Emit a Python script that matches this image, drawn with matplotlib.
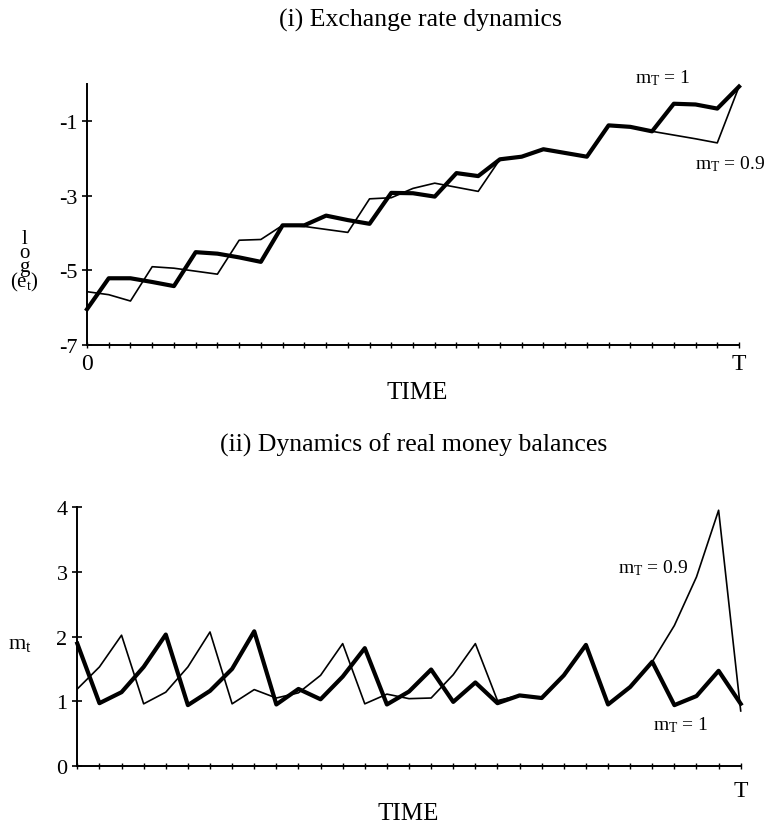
import matplotlib
matplotlib.use("Agg")
import matplotlib.pyplot as plt
import numpy as np

plt.rcParams['font.family'] = ['Liberation Serif', 'DejaVu Serif']
plt.rcParams['mathtext.fontset'] = 'custom'
plt.rcParams['mathtext.rm'] = 'Liberation Serif'
plt.rcParams['mathtext.it'] = 'Liberation Serif'
plt.rcParams['axes.unicode_minus'] = False

############################ data ####################################################

periods = np.arange(31)

# (i) log exchange rate
log_e_m1 = [-6.04, -5.21, -5.21, -5.31, -5.42, -4.51, -4.55, -4.65, -4.77, -3.79,
            -3.79, -3.53, -3.65, -3.75, -2.92, -2.93, -3.02, -2.39, -2.47, -2.02,
            -1.95, -1.75, -1.85, -1.95, -1.11, -1.15, -1.27, -0.53, -0.55, -0.66,
            -0.07]
log_e_m09 = [-5.57, -5.65, -5.82, -4.90, -4.94, -5.02, -5.10, -4.19, -4.17, -3.79,
             -3.82, -3.90, -3.98, -3.08, -3.05, -2.80, -2.66, -2.77, -2.88, -2.02,
             -1.95, -1.75, -1.85, -1.95, -1.11, -1.15, -1.27, -1.37, -1.47, -1.58,
             -0.07]

# (ii) real money balances
m_m1 = [1.89, 0.97, 1.14, 1.53, 2.03, 0.94, 1.16, 1.50, 2.08, 0.95,
        1.19, 1.03, 1.38, 1.82, 0.95, 1.15, 1.49, 0.99, 1.29, 0.97,
        1.09, 1.05, 1.40, 1.87, 0.95, 1.22, 1.61, 0.94, 1.08, 1.47,
        0.96]
m_m09 = [1.19, 1.53, 2.02, 0.96, 1.14, 1.53, 2.07, 0.96, 1.18, 1.05,
         1.13, 1.40, 1.89, 0.96, 1.11, 1.04, 1.05, 1.41, 1.89, 1.01,
         1.09, 1.05, 1.40, 1.87, 0.95, 1.22, 1.61, 2.17, 2.92, 3.95,
         0.85]

top_yticks = [-1, -3, -5, -7]
bot_yticks = [0, 1, 2, 3, 4]

############################ plot data #################################

fig = plt.figure(figsize=(7.74, 8.29), dpi=100)
ax1 = fig.add_axes([0.1124, 0.5826, 0.8424, 0.3149])
ax2 = fig.add_axes([0.0999, 0.0748, 0.8571, 0.3124])

ax1.plot(periods, log_e_m09, color='black', lw=1.2, clip_on=False)
ax1.plot(periods, log_e_m1, color='black', lw=3.0, clip_on=False)
ax2.plot(periods, m_m09, color='black', lw=1.2, clip_on=False)
ax2.plot(periods, m_m1, color='black', lw=3.0, clip_on=False)

for ax in (ax1, ax2):
    ax.spines['top'].set_visible(False)
    ax.spines['right'].set_visible(False)
    ax.spines['left'].set_linewidth(1.4)
    ax.spines['bottom'].set_linewidth(1.4)
    ax.set_xlim(0, 30)
    ax.tick_params(axis='y', direction='inout', length=7, width=1.2, labelsize=16)
    ax.tick_params(axis='x', direction='inout', length=4, width=1.0, labelsize=17)

ax1.set_ylim(-7, 0)
ax1.set_yticks(top_yticks)
ax1.set_yticklabels([str(v) for v in top_yticks])
ax1.set_xticks(periods)
ax1.set_xticklabels(['0'] + [''] * 29 + ['T'])
ax1.tick_params(axis='x', pad=4)

ax2.set_ylim(0, 4)
ax2.set_yticks(bot_yticks)
ax2.set_yticklabels([str(v) for v in bot_yticks])
ax2.set_xticks(periods)
ax2.set_xticklabels([''] * 30 + ['T'])
ax2.tick_params(axis='x', pad=8)

# titles and axis labels
fig.text(420 / 774, 1 - 20 / 829, '(i) Exchange rate dynamics', ha='center', va='center', fontsize=18.5)
fig.text(414 / 774, 1 - 445 / 829, '(ii) Dynamics of real money balances', ha='center', va='center', fontsize=18.5)
fig.text(417 / 774, 1 - 393 / 829, 'TIME', ha='center', va='center', fontsize=18)
fig.text(408 / 774, 1 - 814 / 829, 'TIME', ha='center', va='center', fontsize=18)

# stacked "log (e_t)" label, one text object with tight line spacing
fig.text(24 / 774, 1 - 262 / 829, 'l\no\ng\n(e$_{\\mathrm{t}}$)', ha='center', va='center',
         fontsize=15, linespacing=0.62, multialignment='center')
fig.text(20 / 774, 1 - 645 / 829, r'm$_{\mathrm{t}}$', ha='center', va='center', fontsize=16)

# curve labels
fig.text(663 / 774, 1 - 78 / 829, r'm$_{\mathrm{T}}$ = 1', ha='center', va='center', fontsize=14)
fig.text(730 / 774, 1 - 164 / 829, r'm$_{\mathrm{T}}$ = 0.9', ha='center', va='center', fontsize=14)
fig.text(653 / 774, 1 - 568 / 829, r'm$_{\mathrm{T}}$ = 0.9', ha='center', va='center', fontsize=14)
fig.text(681 / 774, 1 - 725 / 829, r'm$_{\mathrm{T}}$ = 1', ha='center', va='center', fontsize=14)

fig.savefig('out.png', dpi=100)
